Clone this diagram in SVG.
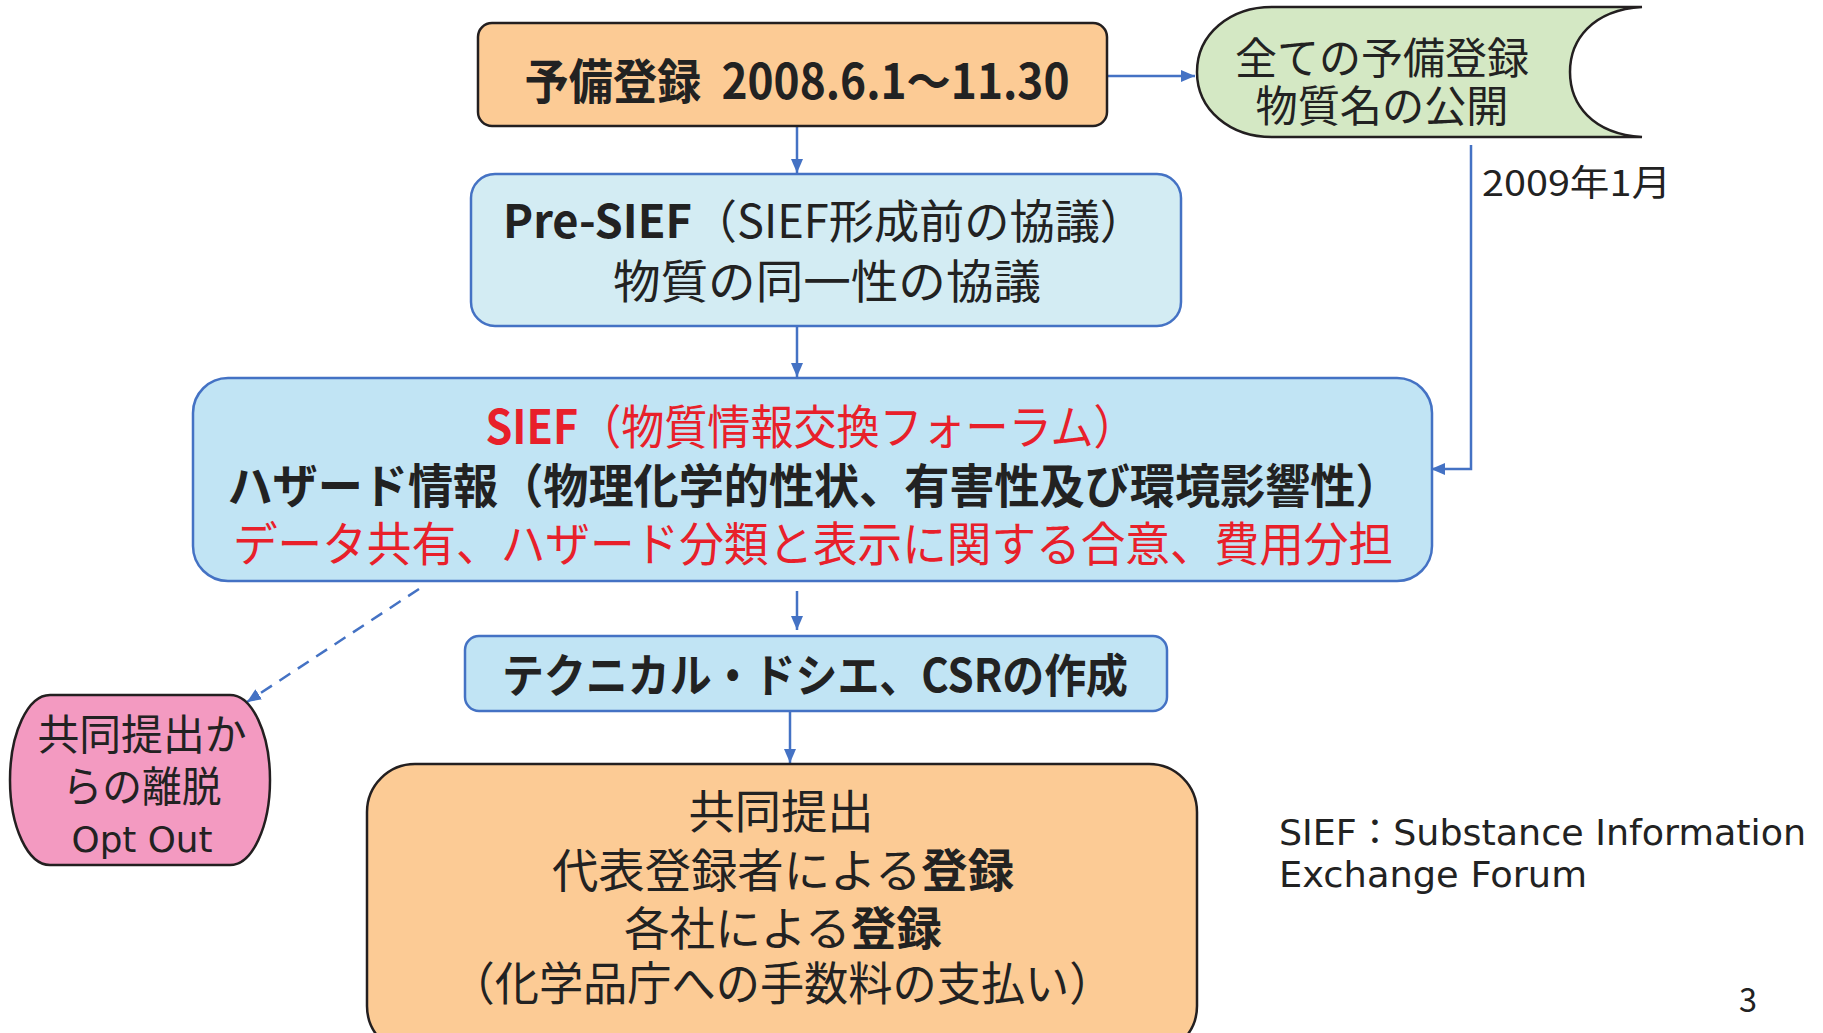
<svg xmlns="http://www.w3.org/2000/svg" width="1823" height="1033" viewBox="0 0 1823 1033">
<defs>
<style>
.jp{font-family:"Noto Sans CJK JP","Noto Sans CJK SC",sans-serif;fill:#222}
.b{font-weight:700}
.red{fill:#E8202A}
.blkf{fill:#222}
.en{font-family:"DejaVu Sans","Noto Sans CJK JP",sans-serif;fill:#222}
.conn{stroke:#4472C4;stroke-width:2.5;fill:none}
.dash{stroke-dasharray:13 9}
.blk{stroke:#231F20;stroke-width:2.5}
.blu{stroke:#4472C4;stroke-width:2.5}
</style>
<marker id="ah" viewBox="0 0 14 12" refX="14" refY="6" markerWidth="14" markerHeight="12" markerUnits="userSpaceOnUse" orient="auto">
<path d="M0,0 L14,6 L0,12 z" fill="#4472C4"/>
</marker>
</defs>
<rect width="1823" height="1033" fill="#fff"/>

<g id="connectors">
<line class="conn" x1="1098" y1="76" x2="1195" y2="76" marker-end="url(#ah)"/>
<line class="conn" x1="797" y1="126" x2="797" y2="173" marker-end="url(#ah)"/>
<line class="conn" x1="797" y1="326" x2="797" y2="377" marker-end="url(#ah)"/>
<polyline class="conn" points="1471,145 1471,469 1431,469" marker-end="url(#ah)"/>
<line class="conn" x1="797" y1="591" x2="797" y2="630" marker-end="url(#ah)"/>
<line class="conn" x1="790" y1="704" x2="790" y2="763" marker-end="url(#ah)"/>
<line class="conn dash" x1="419" y1="589" x2="247" y2="702" marker-end="url(#ah)"/>
</g>

<g id="prereg">
<rect x="478" y="23" width="629" height="103" rx="14" fill="#FCCB95" class="blk"/>
<text class="jp b" x="797" y="99" font-size="48" text-anchor="middle" textLength="545" lengthAdjust="spacingAndGlyphs" xml:space="preserve">予備登録  2008.6.1～11.30</text>
</g>

<g id="publish">
<path d="M1272,7 H1642 C1592,10 1570,40 1570,72 C1570,104 1592,134 1642,137 H1272 C1230,137 1197,110 1197,72 C1197,34 1230,7 1272,7 Z" fill="#D4E8C4" class="blk"/>
<text class="jp" font-size="43" text-anchor="middle"><tspan x="1382" y="74" textLength="294" lengthAdjust="spacingAndGlyphs">全ての予備登録</tspan><tspan x="1382" y="122" textLength="253" lengthAdjust="spacingAndGlyphs">物質名の公開</tspan></text>
</g>

<text id="date2009" class="jp" x="1482" y="196" font-size="36" textLength="189" lengthAdjust="spacingAndGlyphs">2009年1月</text>

<g id="presief">
<rect x="471" y="174" width="710" height="152" rx="24" fill="#D3ECF3" class="blu"/>
<text class="jp" font-size="46" text-anchor="middle"><tspan x="824" y="238" textLength="642" lengthAdjust="spacingAndGlyphs"><tspan class="b">Pre-SIEF</tspan>（SIEF形成前の協議）</tspan><tspan x="827" y="298" textLength="428" lengthAdjust="spacingAndGlyphs">物質の同一性の協議</tspan></text>
</g>

<g id="sief">
<rect x="193" y="378" width="1239" height="203" rx="35" fill="#C1E4F4" class="blu"/>
<text class="jp red" font-size="47" text-anchor="middle"><tspan x="811" y="444" textLength="651" lengthAdjust="spacingAndGlyphs"><tspan class="b">SIEF</tspan>（物質情報交換フォーラム）</tspan><tspan class="b blkf" x="814" y="503" textLength="1173" lengthAdjust="spacingAndGlyphs">ハザード情報（物理化学的性状、有害性及び環境影響性）</tspan><tspan x="813" y="561" textLength="1160" lengthAdjust="spacingAndGlyphs">データ共有、ハザード分類と表示に関する合意、費用分担</tspan></text>
</g>

<g id="tech">
<rect x="465" y="636" width="702" height="75" rx="14" fill="#C1E4F4" class="blu"/>
<text class="jp b" x="815" y="692" font-size="46" text-anchor="middle" textLength="626" lengthAdjust="spacingAndGlyphs">テクニカル・ドシエ、CSRの作成</text>
</g>

<g id="joint">
<rect x="367" y="764" width="830" height="290" rx="48" fill="#FCCB95" class="blk"/>
<text class="jp" font-size="46" text-anchor="middle"><tspan x="781" y="828" textLength="185" lengthAdjust="spacingAndGlyphs">共同提出</tspan><tspan x="783" y="887" textLength="462" lengthAdjust="spacingAndGlyphs">代表登録者による<tspan class="b">登録</tspan></tspan><tspan x="783" y="945" textLength="318" lengthAdjust="spacingAndGlyphs">各社による<tspan class="b">登録</tspan></tspan><tspan x="782" y="1000" textLength="663" lengthAdjust="spacingAndGlyphs">（化学品庁への手数料の支払い）</tspan></text>
</g>

<g id="optout">
<path d="M50,695 H230 A40,85 0 0 1 230,865 H50 A40,85 0 0 1 50,695 Z" fill="#F39AC1" class="blk"/>
<text class="jp" font-size="42" text-anchor="middle"><tspan x="142" y="750" textLength="209" lengthAdjust="spacingAndGlyphs">共同提出か</tspan><tspan x="142" y="802" textLength="159" lengthAdjust="spacingAndGlyphs">らの離脱</tspan><tspan class="en" x="142" y="852" font-size="36" textLength="141" lengthAdjust="spacingAndGlyphs">Opt Out</tspan></text>
</g>

<g id="legend">
<text class="en" font-size="36"><tspan x="1279" y="845" textLength="527" lengthAdjust="spacingAndGlyphs">SIEF：Substance Information</tspan><tspan x="1279" y="887" textLength="308" lengthAdjust="spacingAndGlyphs">Exchange Forum</tspan></text>
</g>

<text id="pagenum" class="jp" x="1739" y="1012" font-size="34" textLength="18" lengthAdjust="spacingAndGlyphs">3</text>
</svg>
